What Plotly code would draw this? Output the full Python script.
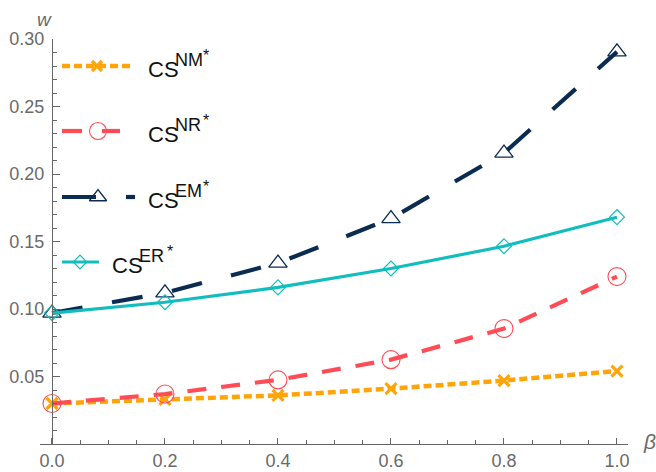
import plotly.graph_objects as go

# Price sensitivity beta and equilibrium wage w for four channel strategies
beta = [0.0, 0.2, 0.4, 0.6, 0.8, 1.0]
w_nm = [0.030, 0.033, 0.036, 0.041, 0.047, 0.054]
w_nr = [0.030, 0.037, 0.0475, 0.0625, 0.0855, 0.124]
w_em = [0.097, 0.112, 0.134, 0.167, 0.2155, 0.2905]
w_er = [0.097, 0.105, 0.116, 0.130, 0.1465, 0.168]

x_ticks = [0.0, 0.2, 0.4, 0.6, 0.8, 1.0]
x_ticklabels = ["0.0", "0.2", "0.4", "0.6", "0.8", "1.0"]
y_ticks = [0.05, 0.10, 0.15, 0.20, 0.25, 0.30]
y_ticklabels = ["0.05", "0.10", "0.15", "0.20", "0.25", "0.30"]

legend_base = ["CS", "CS", "CS", "CS"]
legend_sup = ["NM", "NR", "EM", "ER"]

ORANGE = "#FFA509"
RED = "#FF4D57"
NAVY = "#0B2C50"
CYAN = "#12BDBD"

W, H = 656, 472
L, R, T, B = 40, 28, 39, 28
PW, PH = W - L - R, H - T - B

NARROW = "Liberation Sans Narrow, Liberation Sans, Arial"


def px_to_paper(px, py):
    return (px - L) / PW, (H - B - py) / PH


styles = [
    dict(color=ORANGE, width=4.5, dash="8px,4px", symbol="x-thin", msize=11, mlw=3.2),
    dict(color=RED, width=4.2, dash="19px,15px", symbol="circle-open", msize=18, mlw=1.1),
    dict(color=NAVY, width=4.2, dash="31px,30px", symbol="triangle-up-open", msize=16, mlw=1.3),
    dict(color=CYAN, width=3.2, dash="solid", symbol="diamond-open", msize=11.5, mlw=1.2),
]
series = [w_nm, w_nr, w_em, w_er]

fig = go.Figure()

for vals, st in zip(series, styles):
    fig.add_trace(go.Scatter(
        x=beta, y=vals, mode="lines+markers",
        line=dict(color=st["color"], width=st["width"], dash=st["dash"]),
        marker=dict(symbol=st["symbol"], size=st["msize"], color=st["color"],
                    line=dict(color=st["color"], width=st["mlw"])),
        cliponaxis=False, showlegend=False, hoverinfo="skip",
    ))

# Hand-drawn legend on an overlay axis measured in pixels of the plot area
leg_rows = [
    dict(y=66, line=[[62, 134]], mx=97, tx=146),
    dict(y=131, line=[[62, 82], [102, 120]], mx=98, tx=146),
    dict(y=197, line=[[62, 96], [126, 135]], mx=98, tx=146),
    dict(y=262, line=[[62, 99]], mx=80, tx=110),
]
for row, st, base, sup in zip(leg_rows, styles, legend_base, legend_sup):
    for seg in row["line"]:
        fig.add_trace(go.Scatter(
            x=seg, y=[row["y"], row["y"]], mode="lines", xaxis="x2", yaxis="y2",
            line=dict(color=st["color"], width=st["width"],
                      dash=st["dash"] if st["dash"] == "8px,4px" else "solid"),
            showlegend=False, hoverinfo="skip", cliponaxis=False,
        ))
    fig.add_trace(go.Scatter(
        x=[row["mx"]], y=[row["y"]], mode="markers", xaxis="x2", yaxis="y2",
        marker=dict(symbol=st["symbol"], size=st["msize"] - 1, color=st["color"],
                    line=dict(color=st["color"], width=st["mlw"])),
        showlegend=False, hoverinfo="skip", cliponaxis=False,
    ))
    # label: base text, raised superscript, and a small raised asterisk
    for txt, dx, dy, size in [(base, 0, 3, 22), (sup, 27, -6, 18), ("*", 55, -11, 16)]:
        fig.add_annotation(
            x=row["tx"] + dx, y=row["y"] + dy, xref="x2", yref="y2", text=txt,
            showarrow=False, xanchor="left", yanchor="middle",
            font=dict(family=NARROW, size=size, color="#111111"),
        )

tick_font = dict(family=NARROW, size=18, color="#6a6a6a")

fig.update_layout(
    width=W, height=H,
    margin=dict(l=L, r=R, t=T, b=B, autoexpand=False),
    plot_bgcolor="white", paper_bgcolor="white",
    xaxis=dict(
        range=[-0.0212, 1.0195], tickvals=x_ticks, ticktext=x_ticklabels, automargin=False,
        showgrid=False, zeroline=False, showline=True, linecolor="#666666", linewidth=1.3,
        ticks="inside", ticklen=6, tickcolor="#666666", tickwidth=1,
        minor=dict(dtick=0.05, tick0=0, ticks="inside", ticklen=4, tickcolor="#666666", tickwidth=1),
        tickfont=tick_font, ticklabelstandoff=0,
    ),
    yaxis=dict(
        range=[0, 0.30], tickvals=y_ticks, ticktext=y_ticklabels, automargin=False,
        anchor="free", position=12 / PW,
        showgrid=False, zeroline=False, showline=True, linecolor="#666666", linewidth=1.3,
        ticks="inside", ticklen=7, tickcolor="#666666", tickwidth=1,
        minor=dict(dtick=0.01, tick0=0, ticks="inside", ticklen=4, tickcolor="#666666", tickwidth=1),
        tickfont=tick_font, ticklabelstandoff=4,
    ),
    xaxis2=dict(overlaying="x", range=[L, W - R], visible=False, fixedrange=True, automargin=False),
    yaxis2=dict(overlaying="y", range=[H - B, T], visible=False, fixedrange=True, automargin=False),
)

# Axis titles
wx, wy = px_to_paper(44, 19)
bx, by = px_to_paper(649, 441)
fig.add_annotation(x=wx, y=wy, xref="paper", yref="paper", text="<i>w</i>", showarrow=False,
                   xanchor="center", yanchor="middle",
                   font=dict(family="Liberation Sans, Arial", size=19, color="#6a6a6a"))
fig.add_annotation(x=bx, y=by, xref="paper", yref="paper", text="<i>β</i>", showarrow=False,
                   xanchor="center", yanchor="middle",
                   font=dict(family="Liberation Sans, Arial", size=21, color="#6a6a6a"))

fig.write_html("out.html")
